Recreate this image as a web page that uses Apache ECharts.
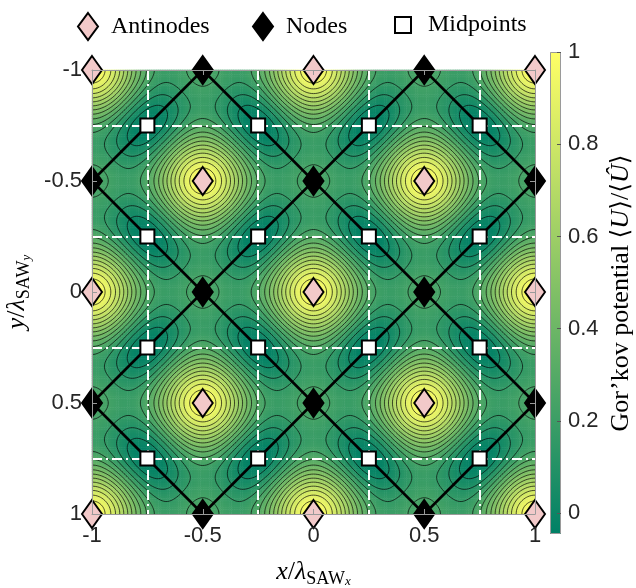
<!DOCTYPE html>
<html>
<head>
<meta charset="utf-8">
<script src="https://cdn.jsdelivr.net/npm/echarts@6/dist/echarts.min.js"></script>
<style>
  html, body { margin: 0; padding: 0; background: #fff; }
  #chart { width: 636px; height: 588px; }
</style>
</head>
<body>
<div id="chart"></div>
<script>
// Characteristic points of the 2D standing SAW field (units of wavelength)
const antinodeX = [-1, 0, 1, -0.5, 0.5, -1, 0, 1, -0.5, 0.5, -1, 0, 1];
const antinodeY = [-1, -1, -1, -0.5, -0.5, 0, 0, 0, 0.5, 0.5, 1, 1, 1];
const nodeX = [-0.5, 0.5, -1, 0, 1, -0.5, 0.5, -1, 0, 1, -0.5, 0.5];
const nodeY = [-1, -1, -0.5, -0.5, -0.5, 0, 0, 0.5, 0.5, 0.5, 1, 1];
const midpointX = [-0.75, -0.25, 0.25, 0.75, -0.75, -0.25, 0.25, 0.75,
                   -0.75, -0.25, 0.25, 0.75, -0.75, -0.25, 0.25, 0.75];
const midpointY = [-0.75, -0.75, -0.75, -0.75, -0.25, -0.25, -0.25, -0.25,
                   0.25, 0.25, 0.25, 0.25, 0.75, 0.75, 0.75, 0.75];

// Pressure nodal lines: x + y = c and x - y = c
const nodalSums = [-1.5, -0.5, 0.5, 1.5];
const nodalDiffs = [-1.5, -0.5, 0.5, 1.5];

// Quarter-wavelength guide lines (dash-dot)
const guideValues = [-0.75, -0.25, 0.25, 0.75];

// Tick labels
const axisTickValues = [-1, -0.5, 0, 0.5, 1];
const colorbarTickValues = [0, 0.2, 0.4, 0.6, 0.8, 1];

// Normalised Gor'kov potential at the characteristic points
const potentialAntinode = 1;
const potentialNode = 0.262;
const potentialMidpoint = -0.045;

// Number of iso-potential contour levels
const contourCount = 14;

// ---------------------------------------------------------------------------
const SANS = '"Liberation Sans", Arial, Helvetica, sans-serif';
const SERIF = '"Liberation Serif", "Times New Roman", "DejaVu Serif", serif';
const summer = ['#008066', '#FFFF66'];

// Time-averaged Gor'kov potential of two orthogonal in-phase standing waves:
// pressure term ~ cos^2(pi(x+y)) cos^2(pi(x-y)), velocity term ~ sin^2(2pi x)+sin^2(2pi y)
function gorkov(x, y) {
  const A = potentialAntinode - potentialNode;
  const B = (potentialNode - potentialMidpoint) / 2;
  const c1 = Math.cos(Math.PI * (x + y));
  const c2 = Math.cos(Math.PI * (x - y));
  const s1 = Math.sin(2 * Math.PI * x);
  const s2 = Math.sin(2 * Math.PI * y);
  return potentialNode + A * c1 * c1 * c2 * c2 - B * (s1 * s1 + s2 * s2);
}

// Heatmap cells (cell centres)
const N = 200;
const cellIdx = [];
for (let i = 0; i < N; i++) cellIdx.push(i);
const heatData = [];
for (let j = 0; j < N; j++) {
  const y = -1 + (j + 0.5) * 2 / N;
  for (let i = 0; i < N; i++) {
    const x = -1 + (i + 0.5) * 2 / N;
    heatData.push([i, j, gorkov(x, y)]);
  }
}

// Contour grid (cell corners) and marching squares
const M = 240;
const h = 2 / M;
const F = [];
for (let j = 0; j <= M; j++) {
  const row = [];
  for (let i = 0; i <= M; i++) row.push(gorkov(-1 + i * h, -1 + j * h));
  F.push(row);
}
let fMin = Infinity, fMax = -Infinity;
F.forEach(r => r.forEach(v => { fMin = Math.min(fMin, v); fMax = Math.max(fMax, v); }));
const levels = [];
for (let k = 1; k <= contourCount; k++) levels.push(fMin + k * (fMax - fMin) / (contourCount + 1));

const contourSegs = [];
function addSeg(a, b) { contourSegs.push({ coords: [a, b] }); }
levels.forEach(L => {
  for (let j = 0; j < M; j++) {
    const y0 = -1 + j * h, y1 = y0 + h;
    for (let i = 0; i < M; i++) {
      const x0 = -1 + i * h, x1 = x0 + h;
      const v0 = F[j][i], v1 = F[j][i + 1], v2 = F[j + 1][i + 1], v3 = F[j + 1][i];
      const idx = (v0 > L ? 1 : 0) | (v1 > L ? 2 : 0) | (v2 > L ? 4 : 0) | (v3 > L ? 8 : 0);
      if (idx === 0 || idx === 15) continue;
      const e0 = () => [x0 + (L - v0) / (v1 - v0) * h, y0];
      const e1 = () => [x1, y0 + (L - v1) / (v2 - v1) * h];
      const e2 = () => [x1 - (L - v2) / (v3 - v2) * h, y1];
      const e3 = () => [x0, y1 - (L - v3) / (v0 - v3) * h];
      const centre = (v0 + v1 + v2 + v3) / 4;
      switch (idx) {
        case 1: case 14: addSeg(e3(), e0()); break;
        case 2: case 13: addSeg(e0(), e1()); break;
        case 3: case 12: addSeg(e3(), e1()); break;
        case 4: case 11: addSeg(e1(), e2()); break;
        case 6: case 9: addSeg(e0(), e2()); break;
        case 7: case 8: addSeg(e3(), e2()); break;
        case 5:
          if (centre > L) { addSeg(e0(), e1()); addSeg(e2(), e3()); }
          else { addSeg(e3(), e0()); addSeg(e1(), e2()); }
          break;
        case 10:
          if (centre > L) { addSeg(e3(), e0()); addSeg(e1(), e2()); }
          else { addSeg(e0(), e1()); addSeg(e2(), e3()); }
          break;
      }
    }
  }
});

// Nodal lines clipped to the square [-1, 1]^2
const nodalLines = [];
nodalSums.forEach(c => {
  const xa = Math.max(-1, c - 1), xb = Math.min(1, c + 1);
  nodalLines.push({ coords: [[xa, c - xa], [xb, c - xb]] });
});
nodalDiffs.forEach(c => {
  const xa = Math.max(-1, c - 1), xb = Math.min(1, c + 1);
  nodalLines.push({ coords: [[xa, xa - c], [xb, xb - c]] });
});

const guideLines = [];
guideValues.forEach(v => {
  guideLines.push({ coords: [[v, -1], [v, 1]] });
  guideLines.push({ coords: [[-1, v], [1, v]] });
});

const zip = (xs, ys) => xs.map((x, k) => [x, ys[k]]);

// Rich-text styles for the axis titles
const mathRich = {
  i: { fontFamily: SERIF, fontStyle: 'italic', fontSize: 26, color: '#000', lineHeight: 32 },
  n: { fontFamily: SERIF, fontSize: 26, color: '#000', lineHeight: 32 },
  s: { fontFamily: SERIF, fontSize: 18, color: '#000', lineHeight: 16, verticalAlign: 'bottom' },
  ss: { fontFamily: SERIF, fontStyle: 'italic', fontSize: 13, color: '#000', lineHeight: 6, verticalAlign: 'bottom' }
};
const cbRich = {
  n: { fontFamily: SERIF, fontSize: 26, color: '#000', lineHeight: 32 },
  m: { fontFamily: '"DejaVu Serif", ' + SERIF, fontSize: 25, color: '#000', lineHeight: 32 },
  i: { fontFamily: SERIF, fontStyle: 'italic', fontSize: 26, color: '#000', lineHeight: 32 }
};

const PLOT = { left: 92, top: 70, width: 443, height: 444 };
const CB = { left: 550, top: 52, width: 11, height: 482 };
const frameColor = '#9a9a9a';
const labelStyle = { fontFamily: SANS, fontSize: 22, color: '#262626' };
const frameLine = { show: true, onZero: false, lineStyle: { color: frameColor, width: 1 } };
const frameTick = { show: true, inside: true, length: 5, lineStyle: { color: frameColor } };

const legendText = { fontFamily: SERIF, fontSize: 24, color: '#000', padding: [0, 0, 0, 8] };

const option = {
  animation: false,
  backgroundColor: '#fff',
  legend: [
    { data: ['Antinodes'], left: 72, top: 7, itemWidth: 20, itemHeight: 27, selectedMode: false, textStyle: legendText },
    { data: ['Nodes'], left: 247, top: 7, itemWidth: 20, itemHeight: 27, selectedMode: false, textStyle: legendText },
    { data: ['Midpoints'], left: 389, top: 8, itemWidth: 16, itemHeight: 16, selectedMode: false,
      textStyle: Object.assign({}, legendText, { padding: [0, 0, 0, 12] }) }
  ],
  grid: [
    Object.assign({ outerBoundsMode: 'none', containLabel: false }, PLOT),
    Object.assign({ outerBoundsMode: 'none', containLabel: false }, PLOT),
    Object.assign({ outerBoundsMode: 'none', containLabel: false }, CB)
  ],
  xAxis: [
    { type: 'category', gridIndex: 0, data: cellIdx, show: false },
    {
      type: 'value', gridIndex: 1, min: -1, max: 1, interval: 0.5, z: 30,
      axisLine: frameLine, axisTick: frameTick,
      axisLabel: Object.assign({ margin: 11 }, labelStyle),
      splitLine: { show: false },
      name: '{i|x}{n|/}{i|λ}{s|SAW}{ss|x}', nameLocation: 'middle', nameGap: 42,
      nameTextStyle: { rich: mathRich }
    },
    { type: 'category', gridIndex: 2, data: ['c'], show: false },
    {
      type: 'value', gridIndex: 1, position: 'top', min: -1, max: 1, interval: 0.5, z: 30,
      axisLine: frameLine, axisTick: frameTick,
      axisLabel: { show: false }, splitLine: { show: false }
    }
  ],
  yAxis: [
    { type: 'category', gridIndex: 0, data: cellIdx, inverse: true, show: false },
    {
      type: 'value', gridIndex: 1, min: -1, max: 1, interval: 0.5, inverse: true, z: 30,
      axisLine: frameLine, axisTick: frameTick,
      axisLabel: Object.assign({ margin: 10 }, labelStyle),
      splitLine: { show: false },
      name: '{i|y}{n|/}{i|λ}{s|SAW}{ss|y}', nameLocation: 'middle', nameGap: 54,
      nameTextStyle: { rich: mathRich }
    },
    {
      type: 'value', gridIndex: 2, position: 'right', min: potentialMidpoint, max: 1, z: 30,
      axisLine: { show: false, onZero: false },
      axisTick: { show: true, inside: true, length: 4, customValues: colorbarTickValues, lineStyle: { color: '#555' } },
      axisLabel: Object.assign({ margin: 7, customValues: colorbarTickValues }, labelStyle),
      splitLine: { show: false },
      name: '{n|Gor’kov potential }{m|⟨}{i|U}{m|⟩}{n|/}{m|⟨}{i|Û}{m|⟩}',
      nameLocation: 'middle', nameGap: 44, nameRotate: 90,
      nameTextStyle: { rich: cbRich }
    },
    {
      type: 'value', gridIndex: 1, position: 'right', min: -1, max: 1, interval: 0.5, inverse: true, z: 30,
      axisLine: frameLine, axisTick: frameTick,
      axisLabel: { show: false }, splitLine: { show: false }
    }
  ],
  visualMap: {
    type: 'continuous', show: false, seriesIndex: 0, dimension: 2,
    min: potentialMidpoint, max: potentialAntinode,
    inRange: { color: summer }
  },
  series: [
    {
      type: 'heatmap', xAxisIndex: 0, yAxisIndex: 0, data: heatData,
      progressive: 0, silent: true, z: 1
    },
    {
      type: 'lines', coordinateSystem: 'cartesian2d', xAxisIndex: 1, yAxisIndex: 1,
      data: contourSegs, large: true, largeThreshold: 100, silent: true, z: 3,
      lineStyle: { color: '#000', width: 0.8, opacity: 0.85 }
    },
    {
      type: 'lines', coordinateSystem: 'cartesian2d', xAxisIndex: 1, yAxisIndex: 1,
      data: guideLines, silent: true, z: 4,
      lineStyle: { color: '#fff', width: 2, opacity: 1, type: [10, 4, 2, 4] }
    },
    {
      type: 'lines', coordinateSystem: 'cartesian2d', xAxisIndex: 1, yAxisIndex: 1,
      data: nodalLines, silent: true, z: 5,
      lineStyle: { color: '#000', width: 2.6, opacity: 1 }
    },
    {
      name: 'Antinodes', type: 'scatter', xAxisIndex: 1, yAxisIndex: 1, clip: false, z: 20,
      symbol: 'diamond', symbolSize: [20, 28], data: zip(antinodeX, antinodeY),
      itemStyle: { color: '#F2C9C9', borderColor: '#000', borderWidth: 2, opacity: 1 }
    },
    {
      name: 'Nodes', type: 'scatter', xAxisIndex: 1, yAxisIndex: 1, clip: false, z: 20,
      symbol: 'diamond', symbolSize: [20, 28], data: zip(nodeX, nodeY),
      itemStyle: { color: '#000', borderColor: '#000', borderWidth: 2, opacity: 1 }
    },
    {
      name: 'Midpoints', type: 'scatter', xAxisIndex: 1, yAxisIndex: 1, clip: false, z: 20,
      symbol: 'rect', symbolSize: 14, data: zip(midpointX, midpointY),
      itemStyle: { color: '#fff', borderColor: '#000', borderWidth: 2, opacity: 1 }
    },
    {
      type: 'custom', xAxisIndex: 2, yAxisIndex: 2, silent: true, z: 2,
      data: [[0, potentialMidpoint, potentialAntinode]],
      encode: { x: 0, y: [1, 2] },
      renderItem(params, api) {
        const cs = params.coordSys;
        const yTop = api.coord([0, api.value(2)])[1];
        const yBot = api.coord([0, api.value(1)])[1];
        const top = Math.min(yTop, yBot), hgt = Math.abs(yBot - yTop);
        return {
          type: 'group',
          children: [
            {
              type: 'rect',
              shape: { x: cs.x, y: top, width: cs.width, height: hgt },
              style: {
                fill: new echarts.graphic.LinearGradient(0, 1, 0, 0, [
                  { offset: 0, color: summer[0] }, { offset: 1, color: summer[1] }
                ])
              }
            },
            {
              type: 'rect',
              shape: { x: cs.x + 0.5, y: top + 0.5, width: cs.width - 1, height: hgt - 1 },
              style: { fill: null, stroke: frameColor, lineWidth: 1 }
            }
          ]
        };
      }
    }
  ]
};

const chart = echarts.init(document.getElementById('chart'), null, { renderer: 'canvas' });
chart.setOption(option);
</script>
</body>
</html>
